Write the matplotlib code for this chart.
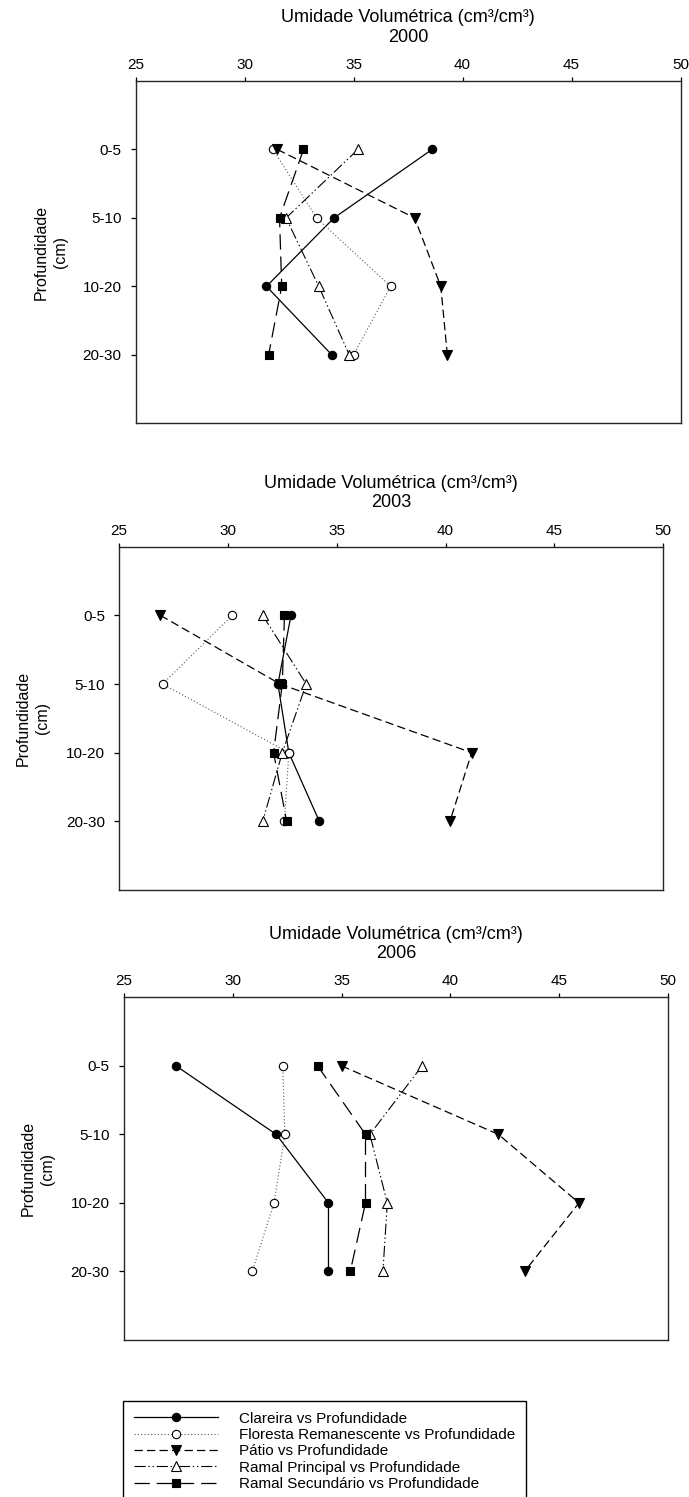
import matplotlib
matplotlib.use("Agg")
import matplotlib.pyplot as plt
from matplotlib.lines import Line2D

plt.rcParams['font.family'] = ['Liberation Sans', 'DejaVu Sans']
plt.rcParams['lines.scale_dashes'] = False

# Depth classes (cm) and sampling years
depths = ["0-5", "5-10", "10-20", "20-30"]
years = ["2000", "2003", "2006"]
xticks = [25, 30, 35, 40, 45, 50]

# Volumetric soil moisture (cm3/cm3 x 100) per depth class
clareira_2000 = [38.6, 34.1, 31.0, 34.0]
floresta_2000 = [31.3, 33.3, 36.7, 35.0]
patio_2000 = [31.5, 37.8, 39.0, 39.3]
principal_2000 = [35.2, 31.9, 33.4, 34.8]
secundario_2000 = [32.7, 31.6, 31.7, 31.1]

clareira_2003 = [32.9, 32.3, 32.8, 34.2]
floresta_2003 = [30.2, 27.0, 32.8, 32.6]
patio_2003 = [26.9, 32.4, 41.2, 40.2]
principal_2003 = [31.6, 33.6, 32.5, 31.6]
secundario_2003 = [32.6, 32.5, 32.1, 32.7]

clareira_2006 = [27.4, 32.0, 34.4, 34.4]
floresta_2006 = [32.3, 32.4, 31.9, 30.9]
patio_2006 = [35.0, 42.2, 45.9, 43.4]
principal_2006 = [38.7, 36.3, 37.1, 36.9]
secundario_2006 = [33.9, 36.1, 36.1, 35.4]

series_labels = [
    "Clareira vs Profundidade",
    "Floresta Remanescente vs Profundidade",
    "Pátio vs Profundidade",
    "Ramal Principal vs Profundidade",
    "Ramal Secundário vs Profundidade",
]

data_by_year = {
    "2000": [clareira_2000, floresta_2000, patio_2000, principal_2000, secundario_2000],
    "2003": [clareira_2003, floresta_2003, patio_2003, principal_2003, secundario_2003],
    "2006": [clareira_2006, floresta_2006, patio_2006, principal_2006, secundario_2006],
}

styles = [
    dict(linestyle='-', color='black', lw=0.9, marker='o', mfc='black', mec='black', ms=6),
    dict(linestyle=(0, (0.8, 1.6)), color='0.35', lw=0.8, marker='o', mfc='white', mec='black', ms=6),
    dict(linestyle=(0, (6, 3)), color='black', lw=0.9, marker='v', mfc='black', mec='black', ms=6.5),
    dict(linestyle=(0, (8, 2, 1, 2, 1, 2)), color='black', lw=0.8, marker='^', mfc='white', mec='black', ms=6.5),
    dict(linestyle=(0, (11, 5)), color='black', lw=0.9, marker='s', mfc='black', mec='black', ms=5.5),
]

W, H = 689, 1497
fig = plt.figure(figsize=(W / 100, H / 100), dpi=100)

# axes boxes in pixels: left, top, right, bottom
boxes = [
    (135.7, 81.0, 680.5, 423.3),
    (119.0, 546.7, 663.3, 890.0),
    (123.7, 997.3, 668.3, 1340.0),
]
ylabel_x = [51, 33, 38]

for year, (l, t, r, b), ylx in zip(years, boxes, ylabel_x):
    ax = fig.add_axes([l / W, 1 - b / H, (r - l) / W, (b - t) / H])
    ypos = list(range(len(depths)))
    for vals, st, lab in zip(data_by_year[year], styles, series_labels):
        ax.plot(vals, ypos, label=lab, markeredgewidth=0.8, **st)
    ax.set_xlim(25, 50)
    ax.set_ylim(len(depths), -1)
    ax.set_xticks(xticks)
    ax.set_yticks(ypos)
    ax.set_yticklabels(depths)
    ax.xaxis.tick_top()
    ax.tick_params(axis='x', top=True, bottom=False, direction='out', length=3,
                   width=0.9, pad=3.5, labelsize=11)
    ax.tick_params(axis='y', left=True, right=False, direction='out', length=3.6,
                   width=0.9, pad=6.5, labelsize=11)
    for sp in ax.spines.values():
        sp.set_linewidth(1.0)
        sp.set_color('0.15')
    cx = (l + r) / 2 / W
    fig.text(cx, 1 - (t - 63) / H, "Umidade Volumétrica (cm³/cm³)", ha='center', va='center', fontsize=13)
    fig.text(cx, 1 - (t - 44) / H, year, ha='center', va='center', fontsize=13)
    fig.text(ylx / W, 1 - (t + b) / 2 / H, "Profundidade\n(cm)", rotation=90, ha='center',
             va='center', fontsize=11.5, linespacing=1.3, multialignment='center')

handles = [Line2D([], [], markeredgewidth=0.8, **st) for st in styles]
leg = fig.legend(handles, series_labels, loc='upper left',
                 bbox_to_anchor=(123 / W, 1 - 1401 / H), frameon=True, fancybox=False,
                 edgecolor='black', framealpha=1, borderaxespad=0, handlelength=5.5,
                 handletextpad=1.4, borderpad=0.7, labelspacing=0.15, fontsize=11,
                 numpoints=1)
leg.get_frame().set_linewidth(1.0)

fig.savefig("out.png", dpi=100)
